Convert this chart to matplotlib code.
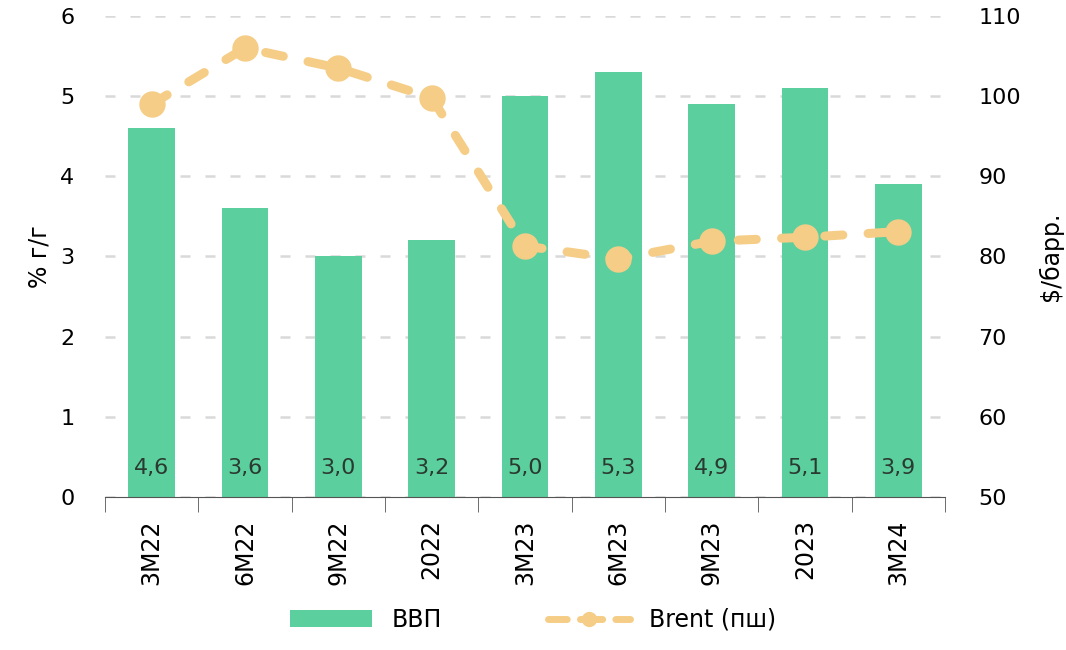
import matplotlib
matplotlib.use("Agg")
import numpy as np
import matplotlib.pyplot as plt
from matplotlib.lines import Line2D

periods = ['3M22', '6M22', '9M22', '2022', '3M23', '6M23', '9M23', '2023', '3M24']
gdp = [4.6, 3.6, 3.0, 3.2, 5.0, 5.3, 4.9, 5.1, 3.9]
brent = [99.0, 106.0, 103.5, 99.8, 81.3, 79.7, 81.9, 82.4, 83.1]

bar_color = '#5ccf9e'
line_color = '#f5cd86'
plt.rcParams['font.family'] = ['DejaVu Sans']

fig = plt.figure(figsize=(10.66, 6.5), dpi=100)
ax = fig.add_axes([0.0985, 0.2354, 0.788, 0.74])
ax2 = ax.twinx()

x = np.arange(len(periods))
bars = ax.bar(x, gdp, width=0.5, color=bar_color, zorder=2, label='ВВП')
for xi, v in zip(x, gdp):
    ax.text(xi, 0.36, f'{v:.1f}'.replace('.', ','), ha='center', va='center',
            fontsize=16, color='#2a3a30', zorder=3)

ax.set_ylim(0, 6)
ax.set_xlim(-0.5, len(periods) - 0.5)
ax.set_yticks(range(0, 7))
ax.yaxis.grid(True, color='#d9d9d9', ls=(0, (4, 6)), lw=1.8, zorder=0)
ax.set_axisbelow(True)
ax.set_xticks(x)
ax.set_xticklabels(periods, rotation=90, fontsize=17)
ax.set_xticks(np.arange(-0.5, len(periods)), minor=True)
ax.tick_params(axis='x', which='major', length=0, pad=16)
ax.tick_params(axis='x', which='minor', length=11, color='#555555', direction='out')
ax.tick_params(axis='y', length=0, labelsize=16, pad=22)
ax.set_ylabel('% г/г', fontsize=17, labelpad=6)

ax2.plot(x, brent, color=line_color, lw=6.5, ls=(0, (2, 2.8)),
         dash_capstyle='round', marker='o', markersize=18, zorder=4)
ax2.set_ylim(50, 110)
ax2.set_yticks(range(50, 111, 10))
ax2.tick_params(axis='y', length=0, labelsize=16, pad=24)
ax2.set_ylabel('$/барр.', fontsize=17, labelpad=12)

for a in (ax, ax2):
    for s in ('top', 'left', 'right'):
        a.spines[s].set_visible(False)
    a.spines['bottom'].set_color('#555555')
ax2.spines['bottom'].set_visible(False)

# legend proxy: dash - dot - dash like the original
ln = Line2D([], [], color=line_color, lw=5, ls=(0.5, (3.2, 1.9)),
            dash_capstyle='round', marker='o', markersize=10, label='Brent (пш)')
fig.legend(handles=[bars, ln], loc='lower center', bbox_to_anchor=(0.5, -0.005),
           ncol=2, frameon=False, fontsize=17, handlelength=3.5,
           columnspacing=4.5)

plt.savefig('out.png', dpi=100)
